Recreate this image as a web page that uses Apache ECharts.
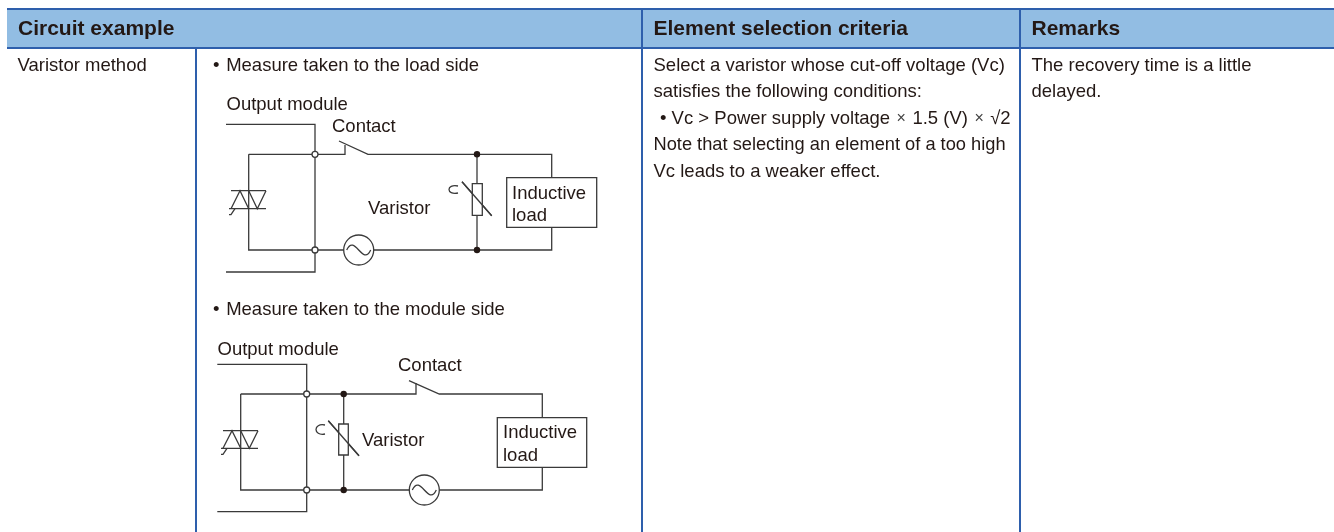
<!DOCTYPE html>
<html><head><meta charset="utf-8">
<style>html,body{margin:0;padding:0;background:#fff}#c{width:1334px;height:532px}</style>
<script src="https://cdn.jsdelivr.net/npm/echarts@6/dist/echarts.min.js"></script>
</head><body><div id="c"></div>
<script>
// ---- table text ----
const headerLabels = ['Circuit example', 'Element selection criteria', 'Remarks'];
const methodLabel = ['Varistor method'];
const measureLabels = ['\u2022\u200a Measure taken to the load side', '\u2022\u200a Measure taken to the module side'];
const criteriaLines = ['Select a varistor whose cut-off voltage (Vc)', 'satisfies the following conditions:',
  '\u2022 Vc > Power supply voltage {x|\u00d7} 1.5 (V) {x|\u00d7} \u221a2', 'Note that selecting an element of a too high', 'Vc leads to a weaker effect.'];
const remarkLines = ['The recovery time is a little', 'delayed.'];
const circuitLabels = ['Output module', 'Contact', 'Varistor', 'Inductive', 'load'];

// ---- anchor of each text row in chart coordinates ----
const headerAnchors = [[18, 29], [653.5, 29], [1031.5, 29]];
const methodAnchors = [[17.5, 65.7]];
const measureAnchors = [[213, 65.7], [213, 309.7]];
const criteriaAnchors = [[653.5, 65.7], [653.5, 91.7], [660, 118.7], [653.5, 145.2], [653.5, 171.7]];
const remarkAnchors = [[1031.5, 65.7], [1031.5, 91.7]];
const circuit1Anchors = [[226.5, 104.7], [332, 126.7], [368, 208.7], [512, 193.7], [512, 215.7]];
const circuit2Anchors = [[217.5, 349.7], [398, 365.7], [362, 440.7], [503, 433.2], [503, 455.7]];

// ---- table frame ----
const headerBand = [7, 9, 1334, 48];
const ruleLines = [[[7, 9], [1334, 9]], [[7, 48], [1334, 48]], [[196, 48], [196, 532]], [[642, 9], [642, 532]], [[1020, 9], [1020, 532]]];

// ---- circuit 1 (load side) ----
const c1Wires = [
  [[226, 124.3], [315, 124.3], [315, 272], [226, 272]],
  [[248.7, 154.3], [345, 154.3], [345, 145]],
  [[339, 141], [368, 154.3], [551.7, 154.3], [551.7, 177.7]],
  [[551.7, 227.3], [551.7, 250], [374, 250]],
  [[344, 250], [248.7, 250], [248.7, 154.3]],
  [[477, 154.3], [477, 250]],
  [[462, 181.7], [491.7, 215.7]]
];
const c1Boxes = [[506.7, 177.7, 596.7, 227.3], [472.3, 183.7, 482.3, 215.3]];
const c1Triac = [[231, 190.7], [266, 208.7], [248.7, 240, 257.3]];
const c1Open = [[315, 154.3], [315, 250]];
const c1Solid = [[477, 154.3], [477, 250]];
const c1Source = [[358.7, 250]];
const c1Curl = [[458, 186, 446, 183.5, 446, 195.5, 458, 193]];

// ---- circuit 2 (module side) ----
const c2Wires = [
  [[217.3, 364.3], [306.7, 364.3], [306.7, 511.7], [217.3, 511.7]],
  [[240.7, 394], [416, 394], [416, 383]],
  [[409, 380.7], [439.3, 394], [542.3, 394], [542.3, 417.7]],
  [[542.3, 467.3], [542.3, 490], [439.3, 490]],
  [[409.3, 490], [240.7, 490], [240.7, 394]],
  [[343.7, 394], [343.7, 490]],
  [[328.3, 420.7], [359, 455.7]]
];
const c2Boxes = [[497.3, 417.7, 586.7, 467.3], [338.7, 424, 348.3, 455]];
const c2Triac = [[223, 430.7], [258, 448.3], [240.7, 232, 249.3]];
const c2Open = [[306.7, 394], [306.7, 490]];
const c2Solid = [[343.7, 394], [343.7, 490]];
const c2Source = [[424.3, 490]];
const c2Curl = [[325, 425, 313, 422.5, 313, 436.5, 325, 434]];

const INK = '#3a3a3a', TEXT = '#231815', RULE = '#2e5fac', BAND = '#92bde3';
const FONT = '"Liberation Sans", Arial, sans-serif';
const WIRE_W = 1.3;

function triacWires(t) {
  const [[xl, yt], [xr, yb], [xm, xa, xb]] = t;
  return [
    [[xl, yt], [xr, yt]], [[xl - 2, yb], [xr, yb]],
    [[xl, yb], [xa, yt], [xm, yb]], [[xm, yt], [xb, yb], [xr, yt]],
    [[xl + 4, yb], [xl, yb + 6], [xl - 2, yb + 6]]
  ];
}
const allWires = [...c1Wires, ...c2Wires, ...triacWires(c1Triac), ...triacWires(c2Triac)];
const allBoxes = [...c1Boxes, ...c2Boxes];
const allOpen = [...c1Open, ...c2Open];
const allSolid = [...c1Solid, ...c2Solid];
const allSources = [...c1Source, ...c2Source];
const allCurls = [...c1Curl, ...c2Curl];
const slashes = [c1Wires[6], c2Wires[6]];

const textRows = [];
function addText(labels, anchors, size, weight) {
  labels.forEach((t, i) => textRows.push({ t, a: anchors[i], size, weight }));
}
addText(headerLabels, headerAnchors, 21, 'bold');
addText(methodLabel, methodAnchors, 18.5, 'normal');
addText(measureLabels, measureAnchors, 18.5, 'normal');
addText(criteriaLines, criteriaAnchors, 18.5, 'normal');
addText(remarkLines, remarkAnchors, 18.5, 'normal');
addText(circuitLabels, circuit1Anchors, 18.5, 'normal');
addText(circuitLabels, circuit2Anchors, 18.5, 'normal');
textRows.find(r => r.t.startsWith('Note')).size = 18.25;

const idx = a => a.map((_, i) => [i]);
function series(list, render, z) {
  return { type: 'custom', coordinateSystem: 'cartesian2d', data: idx(list), z, silent: true, clip: false,
    encode: { x: 0, y: 0 }, animation: false, renderItem: render };
}
const stroke = (w, c) => ({ stroke: c || INK, lineWidth: w || 1, fill: null });

const option = {
  animation: false,
  tooltip: { show: false },
  grid: { left: 0, right: 0, top: 0, bottom: 0 },
  xAxis: { type: 'value', min: 0, max: 1334, show: false },
  yAxis: { type: 'value', min: 0, max: 532, inverse: true, show: false },
  series: [
    series([headerBand], (p, api) => {
      const a = api.coord([headerBand[0], headerBand[1]]), b = api.coord([headerBand[2], headerBand[3]]);
      return { type: 'rect', shape: { x: a[0], y: a[1], width: b[0] - a[0], height: b[1] - a[1] }, style: { fill: BAND } };
    }, 1),
    series(ruleLines, (p, api) => ({ type: 'polyline', shape: { points: ruleLines[p.dataIndex].map(c => api.coord(c)) }, style: stroke(2, RULE) }), 2),
    series(allWires, (p, api) => ({ type: 'polyline', shape: { points: allWires[p.dataIndex].map(c => api.coord(c)) }, style: stroke(WIRE_W) }), 3),
    series(allBoxes, (p, api) => {
      const q = allBoxes[p.dataIndex], a = api.coord([q[0], q[1]]), b = api.coord([q[2], q[3]]);
      return { type: 'rect', shape: { x: a[0], y: a[1], width: b[0] - a[0], height: b[1] - a[1] }, style: { fill: '#fff', stroke: INK, lineWidth: WIRE_W } };
    }, 4),
    series(slashes, (p, api) => ({ type: 'polyline', shape: { points: slashes[p.dataIndex].map(c => api.coord(c)) }, style: stroke(WIRE_W) }), 5),
    series(allOpen, (p, api) => { const c = api.coord(allOpen[p.dataIndex]); return { type: 'circle', shape: { cx: c[0], cy: c[1], r: 3 }, style: { fill: '#fff', stroke: INK, lineWidth: WIRE_W } }; }, 6),
    series(allSolid, (p, api) => { const c = api.coord(allSolid[p.dataIndex]); return { type: 'circle', shape: { cx: c[0], cy: c[1], r: 3.2 }, style: { fill: '#231815' } }; }, 6),
    series(allSources, (p, api) => {
      const c = api.coord(allSources[p.dataIndex]);
      return { type: 'group', children: [
        { type: 'circle', shape: { cx: c[0], cy: c[1], r: 15 }, style: { fill: '#fff', stroke: INK, lineWidth: WIRE_W } },
        { type: 'bezierCurve', shape: { x1: c[0] - 12, y1: c[1], cpx1: c[0] - 4, cpy1: c[1] - 17, cpx2: c[0] + 4, cpy2: c[1] + 17, x2: c[0] + 12, y2: c[1] }, style: stroke(WIRE_W) }
      ] };
    }, 6),
    series(allCurls, (p, api) => {
      const q = allCurls[p.dataIndex];
      const a = api.coord([q[0], q[1]]), b = api.coord([q[2], q[3]]), d = api.coord([q[4], q[5]]), e = api.coord([q[6], q[7]]);
      return { type: 'bezierCurve', shape: { x1: a[0], y1: a[1], cpx1: b[0], cpy1: b[1], cpx2: d[0], cpy2: d[1], x2: e[0], y2: e[1] }, style: stroke(WIRE_W) };
    }, 6),
    series(textRows, (p, api) => {
      const r = textRows[p.dataIndex], c = api.coord(r.a);
      return { type: 'text', x: c[0], y: c[1], style: { text: r.t, x: 0, y: 0, fill: TEXT, font: `${r.weight} ${r.size}px ${FONT}`, textAlign: 'left', textVerticalAlign: 'middle',
        rich: { x: { fontSize: 16, fontFamily: FONT, fill: '#444', width: 12, align: 'center' } } } };
    }, 7)
  ]
};
echarts.init(document.getElementById('c'), null, { renderer: 'canvas' }).setOption(option);
</script></body></html>
